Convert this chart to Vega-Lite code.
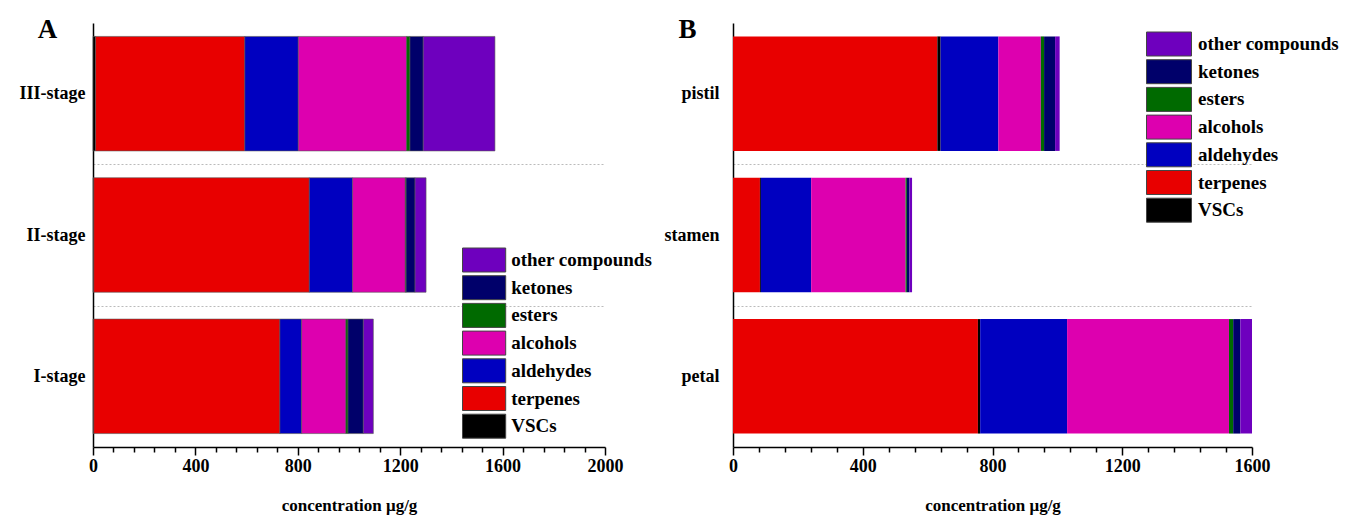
{
  "$schema": "https://vega.github.io/schema/vega-lite/v6.json",
  "background": "white",
  "padding": {"left": 19, "top": 14, "right": 5, "bottom": 5},
  "bounds": "flush",
  "spacing": 128,
  "config": {"font": "Liberation Serif", "view": {"stroke": null}},
  "datasets": {
    "d": [
      {"panel": "A", "group": "III-stage", "category": "VSCs", "value": 10},
      {"panel": "A", "group": "III-stage", "category": "terpenes", "value": 583},
      {"panel": "A", "group": "III-stage", "category": "aldehydes", "value": 209},
      {"panel": "A", "group": "III-stage", "category": "alcohols", "value": 423},
      {"panel": "A", "group": "III-stage", "category": "esters", "value": 13},
      {"panel": "A", "group": "III-stage", "category": "ketones", "value": 52},
      {"panel": "A", "group": "III-stage", "category": "other compounds", "value": 280},
      {"panel": "A", "group": "II-stage", "category": "VSCs", "value": 3},
      {"panel": "A", "group": "II-stage", "category": "terpenes", "value": 842},
      {"panel": "A", "group": "II-stage", "category": "aldehydes", "value": 169},
      {"panel": "A", "group": "II-stage", "category": "alcohols", "value": 206},
      {"panel": "A", "group": "II-stage", "category": "esters", "value": 3},
      {"panel": "A", "group": "II-stage", "category": "ketones", "value": 35},
      {"panel": "A", "group": "II-stage", "category": "other compounds", "value": 43},
      {"panel": "A", "group": "I-stage", "category": "VSCs", "value": 3},
      {"panel": "A", "group": "I-stage", "category": "terpenes", "value": 727},
      {"panel": "A", "group": "I-stage", "category": "aldehydes", "value": 85},
      {"panel": "A", "group": "I-stage", "category": "alcohols", "value": 173},
      {"panel": "A", "group": "I-stage", "category": "esters", "value": 8},
      {"panel": "A", "group": "I-stage", "category": "ketones", "value": 60},
      {"panel": "A", "group": "I-stage", "category": "other compounds", "value": 39},
      {"panel": "B", "group": "pistil", "category": "terpenes", "value": 630},
      {"panel": "B", "group": "pistil", "category": "VSCs", "value": 10},
      {"panel": "B", "group": "pistil", "category": "aldehydes", "value": 178},
      {"panel": "B", "group": "pistil", "category": "alcohols", "value": 131},
      {"panel": "B", "group": "pistil", "category": "esters", "value": 10},
      {"panel": "B", "group": "pistil", "category": "ketones", "value": 34},
      {"panel": "B", "group": "pistil", "category": "other compounds", "value": 14},
      {"panel": "B", "group": "stamen", "category": "terpenes", "value": 83},
      {"panel": "B", "group": "stamen", "category": "VSCs", "value": 3},
      {"panel": "B", "group": "stamen", "category": "aldehydes", "value": 155},
      {"panel": "B", "group": "stamen", "category": "alcohols", "value": 291},
      {"panel": "B", "group": "stamen", "category": "esters", "value": 4},
      {"panel": "B", "group": "stamen", "category": "ketones", "value": 8},
      {"panel": "B", "group": "stamen", "category": "other compounds", "value": 8},
      {"panel": "B", "group": "petal", "category": "terpenes", "value": 755},
      {"panel": "B", "group": "petal", "category": "VSCs", "value": 7},
      {"panel": "B", "group": "petal", "category": "aldehydes", "value": 268},
      {"panel": "B", "group": "petal", "category": "alcohols", "value": 499},
      {"panel": "B", "group": "petal", "category": "esters", "value": 13},
      {"panel": "B", "group": "petal", "category": "ketones", "value": 22},
      {"panel": "B", "group": "petal", "category": "other compounds", "value": 36}
    ]
  },
  "resolve": {"scale": {"color": "independent"}, "legend": {"color": "independent"}},
  "hconcat": [
    {
      "width": 512,
      "height": 424,
      "data": {"name": "d"},
      "transform": [
        {"filter": "datum.panel === 'A'"},
        {"calculate": "indexof(['VSCs','terpenes','aldehydes','alcohols','esters','ketones','other compounds'], datum.category)", "as": "rank"}
      ],
      "mark": {"type": "bar", "stroke": "#555555", "strokeWidth": 0.6, "height": {"band": 0.81}},
      "encoding": {
        "y": {
          "field": "group", "type": "nominal",
          "sort": ["III-stage", "II-stage", "I-stage"],
          "scale": {"paddingInner": 0, "paddingOuter": 0},
          "axis": {
            "title": "A", "titleAngle": 0, "titleX": -46, "titleY": 14, "titleAlign": "center", "titleBaseline": "alphabetic",
            "titleFont": "Liberation Serif", "titleFontSize": 27, "titleFontWeight": "bold", "titleColor": "black",
            "ticks": false, "labelFont": "Liberation Serif", "labelFontSize": 18, "labelFontWeight": "bold", "labelColor": "black", "labelPadding": 8,
            "domainColor": "black", "domainWidth": 1.5,
            "grid": true, "tickBand": "extent", "gridDash": [2, 2], "gridColor": "#bbbbbb", "gridWidth": 1,
            "gridOpacity": {"condition": {"test": "datum.value === 'III-stage' || datum.value === 'II-stage'", "value": 1}, "value": 0}
          }
        },
        "x": {
          "field": "value", "type": "quantitative", "stack": "zero",
          "scale": {"domain": [0, 2000], "nice": false},
          "axis": {
            "title": "concentration μg/g",
            "values": [0, 80, 160, 240, 320, 400, 480, 560, 640, 720, 800, 880, 960, 1040, 1120, 1200, 1280, 1360, 1440, 1520, 1600, 1680, 1760, 1840, 1920, 2000],
            "format": "d",
            "labelExpr": "datum.value % 400 === 0 ? datum.label : ''",
            "tickSize": {"condition": {"test": "datum.value % 400 === 0", "value": 8}, "value": 5},
            "tickColor": "black", "tickWidth": 1.5, "domainColor": "black", "domainWidth": 1.5,
            "labelFont": "Liberation Serif", "labelFontSize": 18, "labelFontWeight": "bold", "labelColor": "black", "labelPadding": 2,
            "labelOverlap": false, "labelFlush": false, "grid": false,
            "titleFont": "Liberation Serif", "titleFontSize": 17, "titleFontWeight": "bold", "titleColor": "black", "titlePadding": 22
          }
        },
        "color": {
          "field": "category", "type": "nominal",
          "scale": {
            "domain": ["other compounds", "ketones", "esters", "alcohols", "aldehydes", "terpenes", "VSCs"],
            "range": ["#6E00BE", "#00006A", "#006A00", "#DD00AF", "#0000C0", "#E80000", "#000000"]
          },
          "legend": {
            "orient": "none", "legendX": 378.6, "legendY": 224.5, "title": null,
            "symbolType": "M-1.8,-1H1.8V1H-1.8Z", "symbolSize": 576, "symbolStrokeColor": "#444444", "symbolStrokeWidth": 1, "symbolOpacity": 1,
            "labelFont": "Liberation Serif", "labelFontSize": 19, "labelFontWeight": "bold", "labelColor": "black", "labelOffset": 14.6, "rowPadding": -1.3
          }
        },
        "order": {"field": "rank", "type": "quantitative"}
      }
    },
    {
      "width": 519,
      "height": 424,
      "data": {"name": "d"},
      "transform": [
        {"filter": "datum.panel === 'B'"},
        {"calculate": "indexof(['terpenes','VSCs','aldehydes','alcohols','esters','ketones','other compounds'], datum.category)", "as": "rank"}
      ],
      "mark": {"type": "bar", "strokeWidth": 0, "height": {"band": 0.81}},
      "encoding": {
        "y": {
          "field": "group", "type": "nominal",
          "sort": ["pistil", "stamen", "petal"],
          "scale": {"paddingInner": 0, "paddingOuter": 0},
          "axis": {
            "title": "B", "titleAngle": 0, "titleX": -46, "titleY": 14, "titleAlign": "center", "titleBaseline": "alphabetic",
            "titleFont": "Liberation Serif", "titleFontSize": 27, "titleFontWeight": "bold", "titleColor": "black",
            "ticks": false, "labelFont": "Liberation Serif", "labelFontSize": 18, "labelFontWeight": "bold", "labelColor": "black", "labelPadding": 14,
            "domainColor": "black", "domainWidth": 1.5,
            "grid": true, "tickBand": "extent", "gridDash": [2, 2], "gridColor": "#bbbbbb", "gridWidth": 1,
            "gridOpacity": {"condition": {"test": "datum.value === 'pistil' || datum.value === 'stamen'", "value": 1}, "value": 0}
          }
        },
        "x": {
          "field": "value", "type": "quantitative", "stack": "zero",
          "scale": {"domain": [0, 1600], "nice": false},
          "axis": {
            "title": "concentration μg/g",
            "values": [0, 80, 160, 240, 320, 400, 480, 560, 640, 720, 800, 880, 960, 1040, 1120, 1200, 1280, 1360, 1440, 1520, 1600],
            "format": "d",
            "labelExpr": "datum.value % 400 === 0 ? datum.label : ''",
            "tickSize": {"condition": {"test": "datum.value % 400 === 0", "value": 8}, "value": 5},
            "tickColor": "black", "tickWidth": 1.5, "domainColor": "black", "domainWidth": 1.5,
            "labelFont": "Liberation Serif", "labelFontSize": 18, "labelFontWeight": "bold", "labelColor": "black", "labelPadding": 2,
            "labelOverlap": false, "labelFlush": false, "grid": false,
            "titleFont": "Liberation Serif", "titleFontSize": 17, "titleFontWeight": "bold", "titleColor": "black", "titlePadding": 22
          }
        },
        "color": {
          "field": "category", "type": "nominal",
          "scale": {
            "domain": ["other compounds", "ketones", "esters", "alcohols", "aldehydes", "terpenes", "VSCs"],
            "range": ["#6E00BE", "#00006A", "#006A00", "#DD00AF", "#0000C0", "#E80000", "#000000"]
          },
          "legend": {
            "orient": "none", "legendX": 423.5, "legendY": 8.5, "title": null,
            "symbolType": "M-1.875,-1H1.875V1H-1.875Z", "symbolSize": 576, "symbolStrokeColor": "#444444", "symbolStrokeWidth": 1, "symbolOpacity": 1,
            "labelFont": "Liberation Serif", "labelFontSize": 19, "labelFontWeight": "bold", "labelColor": "black", "labelOffset": 16.5, "rowPadding": -1.3
          }
        },
        "order": {"field": "rank", "type": "quantitative"}
      }
    }
  ]
}
